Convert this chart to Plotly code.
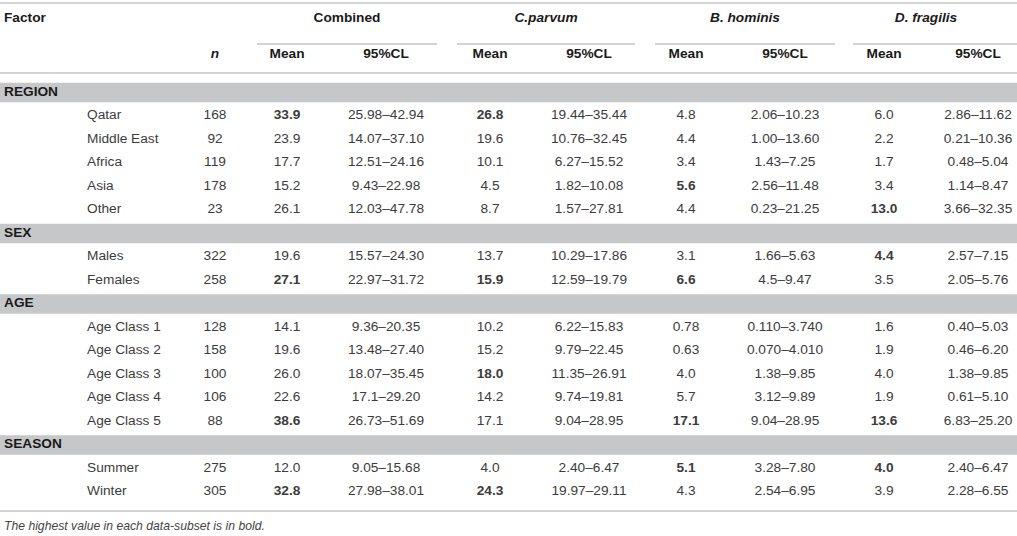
import plotly.graph_objects as go

# ---------------- data ----------------
sections = ["REGION", "SEX", "AGE", "SEASON"]
section_rows = [
    ["Qatar", "Middle East", "Africa", "Asia", "Other"],
    ["Males", "Females"],
    ["Age Class 1", "Age Class 2", "Age Class 3", "Age Class 4", "Age Class 5"],
    ["Summer", "Winter"],
]
n_values = [168, 92, 119, 178, 23, 322, 258, 128, 158, 100, 106, 88, 275, 305]
comb_mean = ["33.9", "23.9", "17.7", "15.2", "26.1", "19.6", "27.1",
             "14.1", "19.6", "26.0", "22.6", "38.6", "12.0", "32.8"]
comb_cl = ["25.98–42.94", "14.07–37.10", "12.51–24.16", "9.43–22.98", "12.03–47.78",
           "15.57–24.30", "22.97–31.72", "9.36–20.35", "13.48–27.40", "18.07–35.45",
           "17.1–29.20", "26.73–51.69", "9.05–15.68", "27.98–38.01"]
cp_mean = ["26.8", "19.6", "10.1", "4.5", "8.7", "13.7", "15.9",
           "10.2", "15.2", "18.0", "14.2", "17.1", "4.0", "24.3"]
cp_cl = ["19.44–35.44", "10.76–32.45", "6.27–15.52", "1.82–10.08", "1.57–27.81",
         "10.29–17.86", "12.59–19.79", "6.22–15.83", "9.79–22.45", "11.35–26.91",
         "9.74–19.81", "9.04–28.95", "2.40–6.47", "19.97–29.11"]
bh_mean = ["4.8", "4.4", "3.4", "5.6", "4.4", "3.1", "6.6",
           "0.78", "0.63", "4.0", "5.7", "17.1", "5.1", "4.3"]
bh_cl = ["2.06–10.23", "1.00–13.60", "1.43–7.25", "2.56–11.48", "0.23–21.25",
         "1.66–5.63", "4.5–9.47", "0.110–3.740", "0.070–4.010", "1.38–9.85",
         "3.12–9.89", "9.04–28.95", "3.28–7.80", "2.54–6.95"]
df_mean = ["6.0", "2.2", "1.7", "3.4", "13.0", "4.4", "3.5",
           "1.6", "1.9", "4.0", "1.9", "13.6", "4.0", "3.9"]
df_cl = ["2.86–11.62", "0.21–10.36", "0.48–5.04", "1.14–8.47", "3.66–32.35",
         "2.57–7.15", "2.05–5.76", "0.40–5.03", "0.46–6.20", "1.38–9.85",
         "0.61–5.10", "6.83–25.20", "2.40–6.47", "2.28–6.55"]
groups = ["Combined", "C.parvum", "B. hominis", "D. fragilis"]
footnote = "The highest value in each data-subset is in bold."

# ---------------- layout constants ----------------
W, H = 1017, 536
FONT = "Liberation Sans, Arial, Helvetica, sans-serif"
TXT = "#3c3c3c"
BOLD = "#1a1a1a"
LINE = "#d2d3d5"
BAND = "#c6c7c9"
FS = 13.7

x_section = 4
x_label = 87
x_n = 215
mean_x = [287, 490, 686, 884]
cl_x = [386, 589, 785, 978]
group_x = [347, 546, 745, 926]
underline = [(257, 437), (457, 635), (655, 835), (853, 1017)]

# y axis in row units: row i sits at pixel 92.5 + 23.5*i
def prow(px):
    return (px - 92.5) / 23.5

# row indices
row_of_data = []
row_of_section = []
r = 0
for s, items in zip(sections, section_rows):
    row_of_section.append(r)
    r += 1
    for _ in items:
        row_of_data.append(r)
        r += 1

labels = [it for items in section_rows for it in items]


def bolded(values):
    out = list(values)
    idx = 0
    for items in section_rows:
        seg = range(idx, idx + len(items))
        m = max(float(values[i]) for i in seg)
        for i in seg:
            if float(values[i]) == m:
                out[i] = "<b>" + values[i] + "</b>"
        idx += len(items)
    return out


fig = go.Figure()

def text_trace(xs, ys, texts, pos="middle center", color=TXT, size=FS):
    fig.add_trace(go.Scatter(
        x=xs, y=ys, text=texts, mode="text", textposition=pos,
        textfont=dict(family=FONT, size=size, color=color),
        hoverinfo="skip", showlegend=False, cliponaxis=False))

# section bands
for rs in row_of_section:
    fig.add_shape(type="rect", xref="x", yref="y", x0=0, x1=W,
                  y0=rs - 0.41, y1=rs + 0.41, fillcolor=BAND,
                  line=dict(width=0), layer="below")

# horizontal rules
for py in [3, 73, 511]:
    fig.add_shape(type="line", xref="x", yref="y", x0=0, x1=W,
                  y0=prow(py), y1=prow(py), line=dict(color=LINE, width=2))
for (a, b) in underline:
    fig.add_shape(type="line", xref="x", yref="y", x0=a, x1=b,
                  y0=prow(44), y1=prow(44), line=dict(color=LINE, width=2))

# headers
text_trace([x_section], [prow(19)], ["<b>Factor</b>"], "middle right", BOLD)
text_trace(group_x, [prow(19)] * 4,
           ["<b>Combined</b>"] + ["<b><i>%s</i></b>" % g for g in groups[1:]],
           "middle center", BOLD)
text_trace([x_n], [prow(55)], ["<b><i>n</i></b>"], "middle center", BOLD)
text_trace(mean_x, [prow(55)] * 4, ["<b>Mean</b>"] * 4, "middle center", BOLD)
text_trace(cl_x, [prow(55)] * 4, ["<b>95%CL</b>"] * 4, "middle center", BOLD)

# section labels
text_trace([x_section] * 4, row_of_section, ["<b>%s</b>" % s for s in sections],
           "middle right", BOLD)

# data rows
text_trace([x_label] * len(labels), row_of_data, labels, "middle right")
text_trace([x_n] * len(n_values), row_of_data, [str(v) for v in n_values])
for xm, xc, mv, cv in zip(mean_x, cl_x,
                          [comb_mean, cp_mean, bh_mean, df_mean],
                          [comb_cl, cp_cl, bh_cl, df_cl]):
    text_trace([xm] * len(mv), row_of_data, bolded(mv))
    text_trace([xc] * len(cv), row_of_data, cv)

# footnote
text_trace([x_section], [prow(527)], ["<i>%s</i>" % footnote], "middle right",
           "#444444", 12.2)

fig.update_layout(
    width=W, height=H, margin=dict(l=0, r=0, t=0, b=0),
    paper_bgcolor="white", plot_bgcolor="white",
    xaxis=dict(range=[0, W], visible=False, fixedrange=True),
    yaxis=dict(range=[prow(H), prow(0)], visible=False, fixedrange=True),
    showlegend=False,
)

fig.write_html(
    "out.html",
    config={"displayModeBar": False, "staticPlot": True},
    post_script="document.body.style.margin='0';document.body.style.overflow='hidden';",
)
